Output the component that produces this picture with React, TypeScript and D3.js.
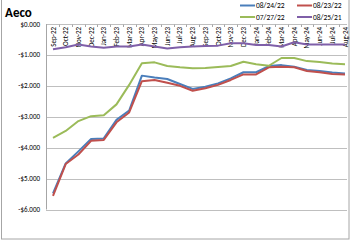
import React from "react";
import * as d3 from "d3";

const months = ["Sep-22","Oct-22","Nov-22","Dec-22","Jan-23","Feb-23","Mar-23","Apr-23","May-23","Jun-23","Jul-23","Aug-23","Sep-23","Oct-23","Nov-23","Dec-23","Jan-24","Feb-24","Mar-24","Apr-24","May-24","Jun-24","Jul-24","Aug-24"];
const s082422 = [-5.48,-4.51,-4.12,-3.72,-3.70,-3.10,-2.80,-1.67,-1.73,-1.78,-1.94,-2.10,-2.03,-1.92,-1.76,-1.56,-1.56,-1.36,-1.33,-1.38,-1.49,-1.52,-1.57,-1.60];
const s082322 = [-5.56,-4.53,-4.22,-3.78,-3.75,-3.18,-2.86,-1.85,-1.81,-1.90,-2.00,-2.16,-2.08,-1.97,-1.81,-1.63,-1.63,-1.40,-1.38,-1.40,-1.52,-1.56,-1.62,-1.63];
const s072722 = [-3.68,-3.46,-3.14,-2.98,-2.95,-2.60,-1.97,-1.27,-1.24,-1.36,-1.40,-1.43,-1.42,-1.39,-1.36,-1.22,-1.30,-1.35,-1.10,-1.10,-1.20,-1.23,-1.28,-1.30];
const s082521 = [-0.82,-0.75,-0.66,-0.73,-0.77,-0.73,-0.73,-0.66,-0.73,-0.79,-0.75,-0.73,-0.71,-0.70,-0.62,-0.62,-0.68,-0.68,-0.73,-0.59,-0.66,-0.66,-0.66,-0.66];
const yTicks = [0,-1,-2,-3,-4,-5,-6];

const series = [
  { name: "08/24/22", values: s082422, color: "#4A7EBB" },
  { name: "08/23/22", values: s082322, color: "#C0504D" },
  { name: "07/27/22", values: s072722, color: "#9BBB59" },
  { name: "08/25/21", values: s082521, color: "#7F5FA8" },
];

export default function App() {
  const W = 350, H = 240;
  const x = d3.scalePoint<string>().domain(months).range([53, 345]);
  const step = x.step();
  const y = d3.scaleLinear().domain([-6, 0]).range([209.5, 24]);
  const line = d3.line<number>().x((_, i) => x(months[i])!).y(v => y(v));
  const font = "Calibri, Carlito, 'Liberation Sans', Arial, sans-serif";
  const legendItems = [
    { s: series[0], lx: 240, ly: 5.5 },
    { s: series[1], lx: 297, ly: 5.5 },
    { s: series[2], lx: 240, ly: 17 },
    { s: series[3], lx: 297, ly: 17 },
  ];
  return (
    <svg width={W} height={H} style={{ position: "absolute", left: 0, top: 0, background: "#fff" }} fontFamily={font}>
      <rect x={1.5} y={-2} width={347.5} height={241} fill="#fff" stroke="#A6A6A6" strokeWidth={1} />
      <text x={5} y={17} fontSize={13} fontWeight="bold" fill="#000">Aeco</text>
      {yTicks.map(t => (
        <g key={t}>
          <line x1={46} x2={347} y1={Math.round(y(t)) + 0.5} y2={Math.round(y(t)) + 0.5} stroke="#BFBFBF" strokeWidth={1} />
          <text x={40} y={y(t) + 2.5} fontSize={7} textAnchor="end" fill="#000">{(t < 0 ? "-$" : "$") + Math.abs(t).toFixed(3)}</text>
        </g>
      ))}
      <line x1={46.5} x2={46.5} y1={y(0)} y2={y(-6)} stroke="#A6A6A6" strokeWidth={1} />
      {months.map(m => (
        <line key={"t" + m} x1={Math.round(x(m)! + step / 2) + 0.5} x2={Math.round(x(m)! + step / 2) + 0.5} y1={24.5} y2={27} stroke="#A6A6A6" strokeWidth={1} />
      ))}
      {months.map(m => (
        <text key={m} transform={`translate(${x(m)! + 2.5},${27}) rotate(-90)`} fontSize={7} textAnchor="end" fill="#000">{m}</text>
      ))}
      {series.map(s => (
        <path key={s.name} d={line(s.values)!} fill="none" stroke={s.color} strokeWidth={2} strokeLinejoin="round" />
      ))}
      {legendItems.map(({ s, lx, ly }) => (
        <g key={s.name}>
          <line x1={lx} x2={lx + 15} y1={ly} y2={ly} stroke={s.color} strokeWidth={2} />
          <text x={lx + 16} y={ly + 2.5} fontSize={7.5} fill="#000">{s.name}</text>
        </g>
      ))}
    </svg>
  );
}
